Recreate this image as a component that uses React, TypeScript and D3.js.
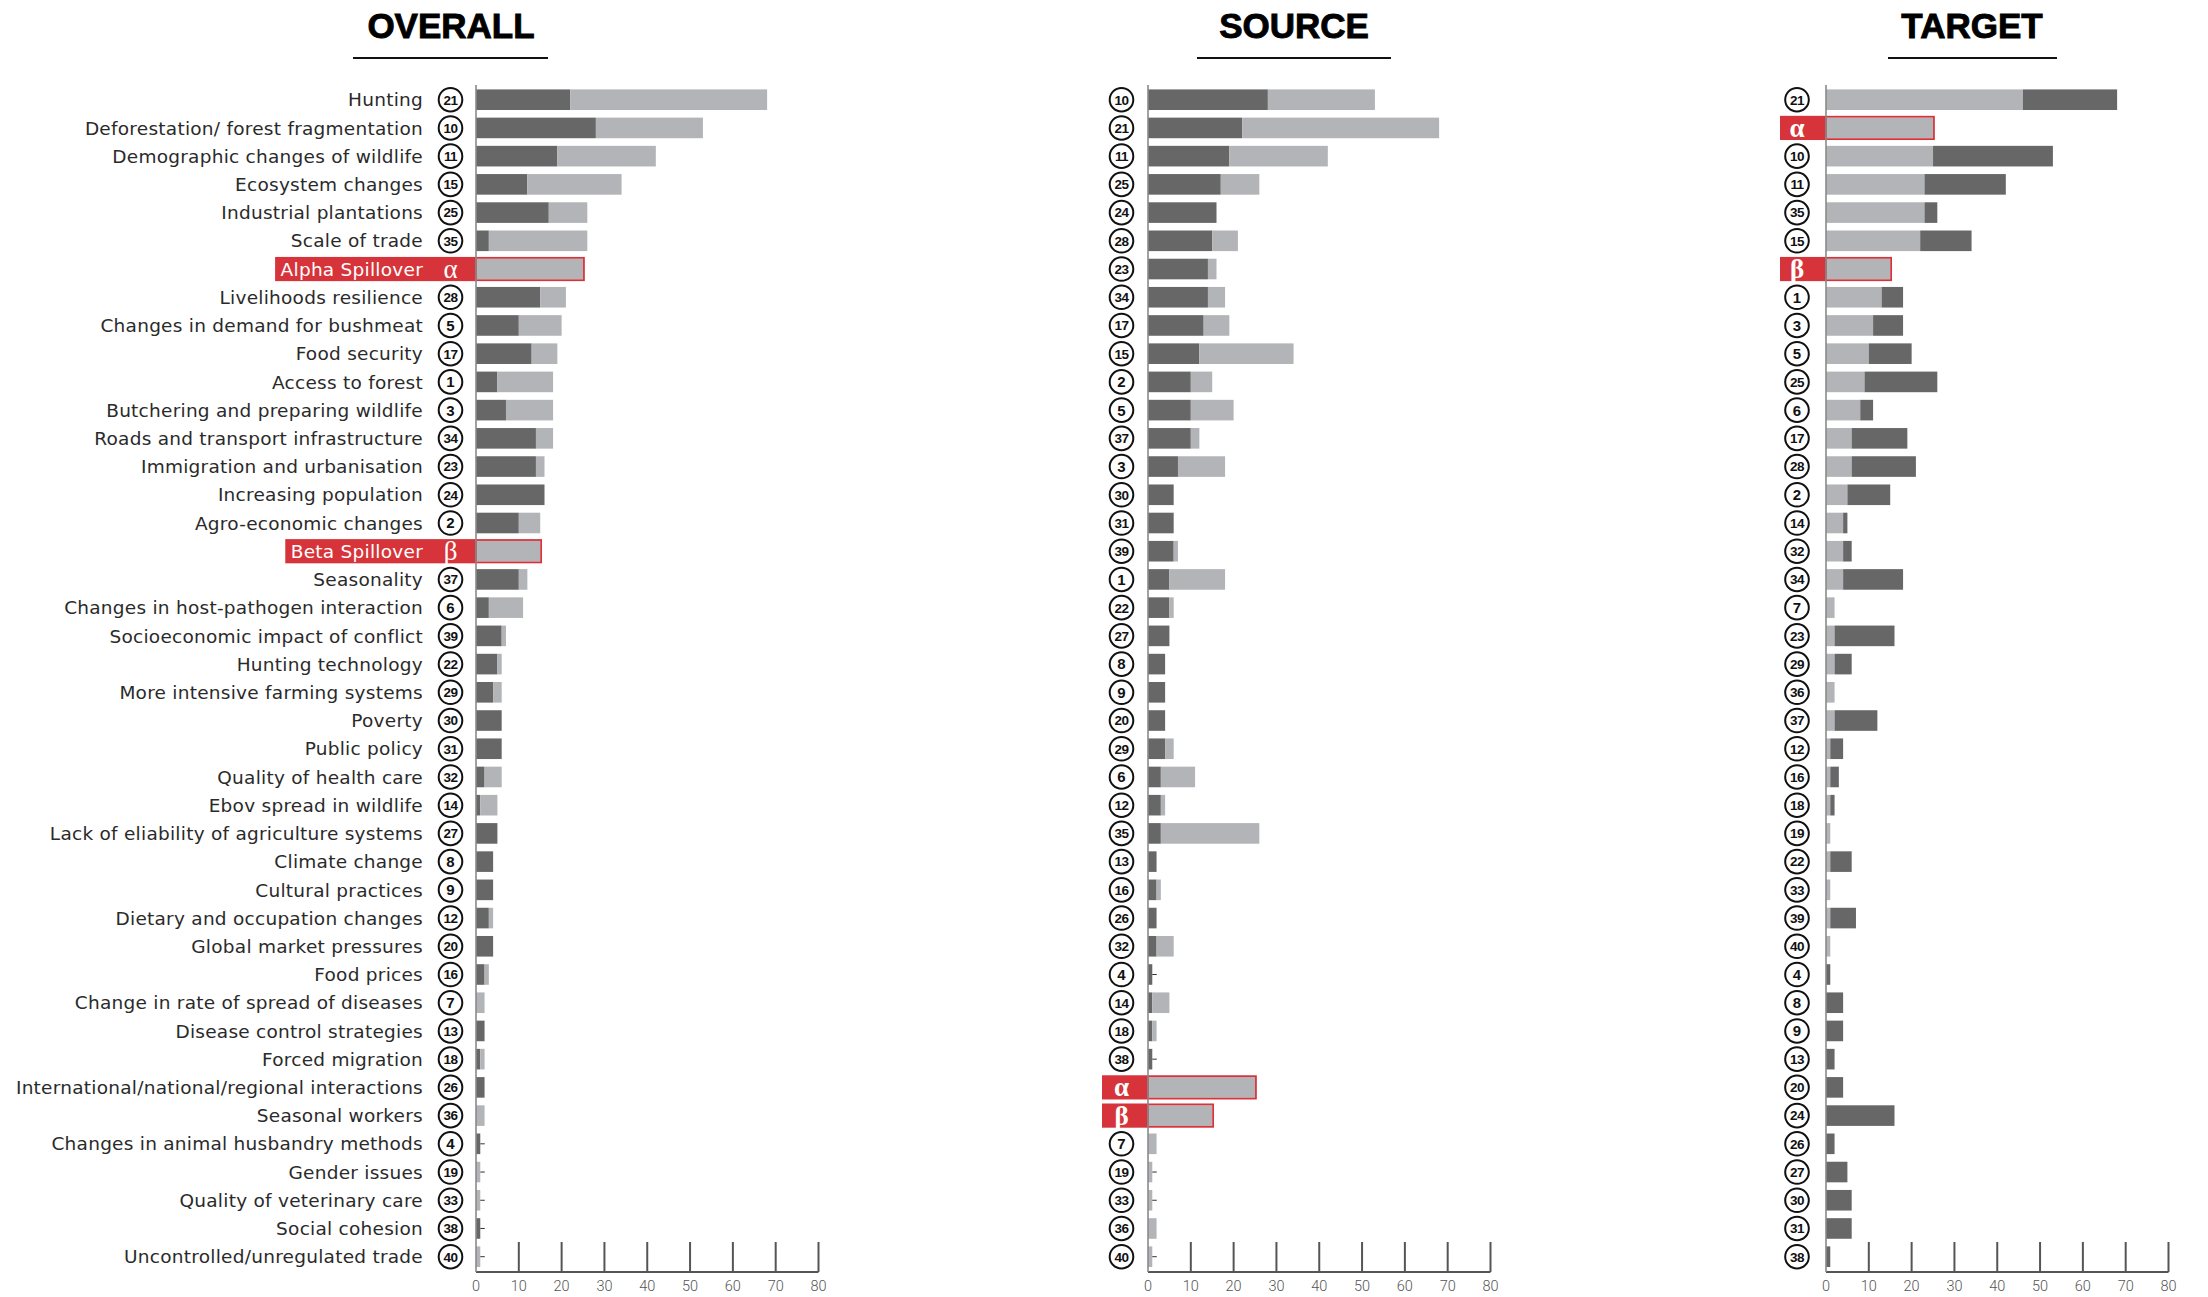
import React, { useEffect, useRef } from "react";
import * as d3 from "d3";

// ---------- DATA ----------
const factorNames = [
  "Access to forest",
  "Agro-economic changes",
  "Butchering and preparing wildlife",
  "Changes in animal husbandry methods",
  "Changes in demand for bushmeat",
  "Changes in host-pathogen interaction",
  "Change in rate of spread of diseases",
  "Climate change",
  "Cultural practices",
  "Deforestation/ forest fragmentation",
  "Demographic changes of wildlife",
  "Dietary and occupation changes",
  "Disease control strategies",
  "Ebov spread in wildlife",
  "Ecosystem changes",
  "Food prices",
  "Food security",
  "Forced migration",
  "Gender issues",
  "Global market pressures",
  "Hunting",
  "Hunting technology",
  "Immigration and urbanisation",
  "Increasing population",
  "Industrial plantations",
  "International/national/regional interactions",
  "Lack of eliability of agriculture systems",
  "Livelihoods resilience",
  "More intensive farming systems",
  "Poverty",
  "Public policy",
  "Quality of health care",
  "Quality of veterinary care",
  "Roads and transport infrastructure",
  "Scale of trade",
  "Seasonal workers",
  "Seasonality",
  "Social cohesion",
  "Socioeconomic impact of conflict",
  "Uncontrolled/unregulated trade",
];

// counts as a source (dark) and as a target (light), factor 1..40
const sourceCounts = [5, 10, 7, 1, 10, 3, 0, 4, 4, 28, 19, 3, 2, 1, 12, 2, 13, 1, 0, 4, 22, 5, 14, 16, 17, 2, 5, 15, 4, 6, 6, 2, 0, 14, 3, 0, 10, 1, 6, 0];
const targetCounts = [13, 5, 11, 0, 10, 8, 2, 0, 0, 25, 23, 1, 0, 4, 22, 1, 6, 1, 1, 0, 46, 1, 2, 0, 9, 0, 0, 6, 2, 0, 0, 4, 1, 4, 23, 2, 2, 0, 1, 1];

const spilloverKeys = ["α", "β"];
const spilloverNames = ["Alpha Spillover", "Beta Spillover"];
const spilloverValues = [25, 15];

const overallOrder: (number | string)[] = [21, 10, 11, 15, 25, 35, "α", 28, 5, 17, 1, 3, 34, 23, 24, 2, "β", 37, 6, 39, 22, 29, 30, 31, 32, 14, 27, 8, 9, 12, 20, 16, 7, 13, 18, 26, 36, 4, 19, 33, 38, 40];
const sourceOrder: (number | string)[] = [10, 21, 11, 25, 24, 28, 23, 34, 17, 15, 2, 5, 37, 3, 30, 31, 39, 1, 22, 27, 8, 9, 20, 29, 6, 12, 35, 13, 16, 26, 32, 4, 14, 18, 38, "α", "β", 7, 19, 33, 36, 40];
const targetOrder: (number | string)[] = [21, "α", 10, 11, 35, 15, "β", 1, 3, 5, 25, 6, 17, 28, 2, 14, 32, 34, 7, 23, 29, 36, 37, 12, 16, 18, 19, 22, 33, 39, 40, 4, 8, 9, 13, 20, 24, 26, 27, 30, 31, 38];

const panelTitles = ["OVERALL", "SOURCE", "TARGET"];
const xTicks = [0, 10, 20, 30, 40, 50, 60, 70, 80];

// ---------- STYLE ----------
const DARK = "#676767";
const LIGHT = "#b2b4b7";
const RED = "#d6343a";
const W = 2208;
const H = 1297;
const LABEL_FONT = 18.5;
const LABEL_SPACING = 0.25;

export default function App() {
  const ref = useRef<SVGSVGElement | null>(null);

  useEffect(() => {
    const svg = d3.select(ref.current);
    svg.selectAll("*").remove();

    const panels = [
      { title: panelTitles[0], order: overallOrder, axisX: 476, badgeOff: 25.5, labels: true, darkFirst: true, dash: true, titleX: 451, ulX: [353, 548], symBold: false },
      { title: panelTitles[1], order: sourceOrder, axisX: 1148, badgeOff: 26.5, labels: false, darkFirst: true, dash: true, titleX: 1294, ulX: [1197, 1391], symBold: true },
      { title: panelTitles[2], order: targetOrder, axisX: 1826, badgeOff: 29, labels: false, darkFirst: false, dash: false, titleX: 1972, ulX: [1888, 2057], symBold: true },
    ];

    panels.forEach((p) => {
      const g = svg.append("g");
      const x = d3.scaleLinear().domain([0, 80]).range([p.axisX, p.axisX + 342.5]);
      const y = d3
        .scaleBand<string>()
        .domain(p.order.map(String))
        .range([85.6, 1270.8])
        .paddingInner(0.27)
        .paddingOuter(0.135);
      const bw = y.bandwidth();

      // title
      g.append("text")
        .attr("x", p.titleX)
        .attr("y", 38)
        .attr("text-anchor", "middle")
        .attr("font-family", "'Liberation Sans', Arial, sans-serif")
        .attr("font-weight", 700)
        .attr("font-size", 35)
        .attr("fill", "#000")
        .attr("stroke", "#000")
        .attr("stroke-width", 0.9)
        .text(p.title);
      g.append("line")
        .attr("x1", p.ulX[0])
        .attr("x2", p.ulX[1])
        .attr("y1", 58)
        .attr("y2", 58)
        .attr("stroke", "#111")
        .attr("stroke-width", 2.2);

      // bottom axis
      g.append("line")
        .attr("x1", x(0))
        .attr("x2", x(80))
        .attr("y1", 1272)
        .attr("y2", 1272)
        .attr("stroke", "#555")
        .attr("stroke-width", 2);
      xTicks.forEach((t) => {
        if (t > 0) {
          g.append("line")
            .attr("x1", x(t))
            .attr("x2", x(t))
            .attr("y1", 1242)
            .attr("y2", 1272)
            .attr("stroke", "#555")
            .attr("stroke-width", 2);
        }
        g.append("text")
          .attr("x", x(t))
          .attr("y", 1291)
          .attr("text-anchor", "middle")
          .attr("font-family", "Roboto, sans-serif")
          .attr("font-weight", 300)
          .attr("font-size", 14.5)
          .attr("fill", "#555")
          .text(String(t));
      });

      p.order.forEach((key) => {
        const k = String(key);
        const y0 = y(k) as number;
        const cy = y0 + bw / 2;
        const badgeX = p.axisX - p.badgeOff;

        if (typeof key === "string") {
          const si = spilloverKeys.indexOf(key);
          const v = spilloverValues[si];
          const boxTop = y0 - 1.8;
          const boxH = bw + 3.6;
          if (p.labels) {
            const txt = g
              .append("text")
              .attr("x", p.axisX - 53)
              .attr("y", cy)
              .attr("dy", "0.36em")
              .attr("text-anchor", "end")
              .attr("font-family", "'DejaVu Sans', sans-serif")
              .attr("font-size", LABEL_FONT)
              .attr("letter-spacing", LABEL_SPACING)
              .attr("fill", "#fff")
              .text(spilloverNames[si]);
            const len = (txt.node() as SVGTextElement).getComputedTextLength();
            g.insert("rect", () => txt.node() as any)
              .attr("x", p.axisX - 53 - len - 5.5)
              .attr("y", boxTop)
              .attr("width", len + 5.5 + 53)
              .attr("height", boxH)
              .attr("fill", RED);
          } else {
            g.append("rect")
              .attr("x", p.axisX - 46)
              .attr("y", boxTop)
              .attr("width", 46)
              .attr("height", boxH)
              .attr("fill", RED);
          }
          g.append("text")
            .attr("x", badgeX)
            .attr("y", cy)
            .attr("dy", "0.33em")
            .attr("text-anchor", "middle")
            .attr("font-family", "'Liberation Serif', 'DejaVu Serif', serif")
            .attr("font-weight", p.symBold ? 700 : 400)
            .attr("font-size", 27)
            .attr("fill", "#fff")
            .text(key);
          g.append("rect")
            .attr("x", x(0))
            .attr("y", y0)
            .attr("width", x(v) - x(0))
            .attr("height", bw)
            .attr("fill", LIGHT);
          g.append("rect")
            .attr("x", x(0))
            .attr("y", y0 - 0.9)
            .attr("width", x(v) - x(0) + 0.9)
            .attr("height", bw + 1.8)
            .attr("fill", "none")
            .attr("stroke", RED)
            .attr("stroke-width", 1.8);
          return;
        }

        const idx = key - 1;
        const dark = sourceCounts[idx];
        const light = targetCounts[idx];
        const segs = p.darkFirst
          ? [
              { v: dark, c: DARK },
              { v: light, c: LIGHT },
            ]
          : [
              { v: light, c: LIGHT },
              { v: dark, c: DARK },
            ];
        let acc = 0;
        segs.forEach((s) => {
          if (s.v > 0) {
            g.append("rect")
              .attr("x", x(acc))
              .attr("y", y0)
              .attr("width", x(acc + s.v) - x(acc))
              .attr("height", bw)
              .attr("fill", s.c);
          }
          acc += s.v;
        });
        if (p.dash && acc === 1) {
          g.append("line")
            .attr("x1", x(acc))
            .attr("x2", x(acc) + 4.5)
            .attr("y1", cy)
            .attr("y2", cy)
            .attr("stroke", "#333")
            .attr("stroke-width", 1);
        }

        // badge
        g.append("circle")
          .attr("cx", badgeX)
          .attr("cy", cy)
          .attr("r", 11.8)
          .attr("fill", "#fff")
          .attr("stroke", "#111")
          .attr("stroke-width", 2);
        g.append("text")
          .attr("x", badgeX)
          .attr("y", cy)
          .attr("dy", "0.36em")
          .attr("text-anchor", "middle")
          .attr("font-family", "'Liberation Sans', Arial, sans-serif")
          .attr("font-weight", 700)
          .attr("font-size", key >= 10 ? 13.5 : 15)
          .attr("letter-spacing", key >= 10 ? -0.6 : 0)
          .attr("fill", "#111")
          .text(String(key));

        if (p.labels) {
          g.append("text")
            .attr("x", p.axisX - 53)
            .attr("y", cy)
            .attr("dy", "0.36em")
            .attr("text-anchor", "end")
            .attr("font-family", "'DejaVu Sans', sans-serif")
            .attr("font-size", LABEL_FONT)
            .attr("letter-spacing", LABEL_SPACING)
            .attr("fill", "#2a2a2a")
            .text(factorNames[idx]);
        }
      });

      // vertical axis line
      g.append("line")
        .attr("x1", p.axisX)
        .attr("x2", p.axisX)
        .attr("y1", 85)
        .attr("y2", 1272)
        .attr("stroke", "#8a8a8a")
        .attr("stroke-width", 1.6);
    });
  }, []);

  return (
    <svg
      ref={ref}
      width={W}
      height={H}
      viewBox={`0 0 ${W} ${H}`}
      style={{ position: "absolute", left: 0, top: 0, background: "#fff", display: "block" }}
    />
  );
}
